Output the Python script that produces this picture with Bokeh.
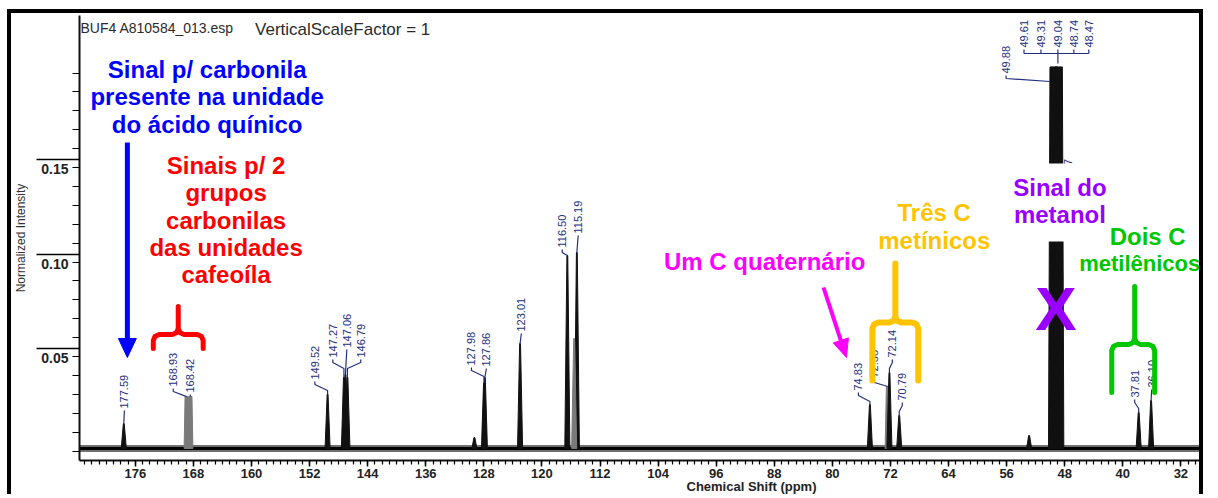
import math
from bokeh.plotting import figure
from bokeh.models import Range1d, FixedTicker, PrintfTickFormatter, Title
from bokeh.core.properties import value
from bokeh.embed import file_html
from bokeh.resources import INLINE

# ---------------- data ----------------
peak_ppm = [177.59, 168.93, 168.42, 149.52, 147.27, 147.06, 146.79,
            127.98, 127.86, 123.01, 116.50, 115.19,
            74.83, 72.38, 72.14, 70.79,
            49.88, 49.61, 49.31, 49.17, 49.04, 48.74, 48.47,
            37.81, 36.10]
peak_height = [0.0145, 0.0288, 0.0288, 0.0300, 0.0390, 0.0405, 0.0390,
               0.0360, 0.0389, 0.0569, 0.1034, 0.1050,
               0.0246, 0.0341, 0.0415, 0.0188,
               0.2032, 0.2032, 0.2032, 0.2032, 0.2032, 0.2032, 0.2032,
               0.0204, 0.0267]
unlabelled_ppm = [129.3, 115.56, 52.9]
unlabelled_height = [0.0071, 0.0595, 0.0082]
baseline_level = 0.0013

x_major_ticks = [176, 168, 160, 152, 144, 136, 128, 120, 112, 104, 96, 88, 80, 72, 64, 56, 48, 40, 32]
x_minor_ticks = list(range(183, 28, -1))
y_tick_values = [0.05, 0.10, 0.15]
y_minor_ticks = [0.00, 0.01, 0.02, 0.03, 0.04, 0.05, 0.06, 0.07, 0.08, 0.09, 0.10, 0.11, 0.12,
                 0.13, 0.14, 0.15, 0.16, 0.17, 0.18, 0.19, 0.20]

# ---------------- layout helpers (page pixels -> data) ----------------
PPM_LEFT, FR_L, FR_R, FR_T, FR_B = 183.69, 76, 1205, 15, 460
PX_PPM, ZERO_PY, PX_UNIT = 7.28, 450.5, 1890.0


def X(px):
    return PPM_LEFT - (px - FR_L) / PX_PPM


def Y(py):
    return (ZERO_PY - py) / PX_UNIT


def PX(ppm):
    return FR_L + (PPM_LEFT - ppm) * PX_PPM


def PY(v):
    return ZERO_PY - v * PX_UNIT


NAVY = "#24307e"
FONT = value("Liberation Sans")

p = figure(width=1196, height=485, output_backend="svg", toolbar_location=None,
           x_range=Range1d(X(FR_L), X(FR_R)), y_range=Range1d(Y(FR_B), Y(FR_T)),
           min_border_left=65, min_border_right=2, min_border_top=2, min_border_bottom=38)
p.styles = {"margin-left": "7px", "margin-top": "9px",
            "border-top": "4px solid black", "border-left": "4px solid black",
            "border-right": "4px solid black"}
p.outline_line_color = None
p.xgrid.visible = False
p.ygrid.visible = False
p.background_fill_color = "white"
p.border_fill_color = "white"

xa = p.xaxis[0]
xa.ticker = FixedTicker(ticks=x_major_ticks, minor_ticks=x_minor_ticks)
xa.axis_line_width = 2
xa.axis_line_color = "#111"
xa.major_tick_out = 6
xa.major_tick_in = 0
xa.minor_tick_out = 4
xa.minor_tick_in = 0
xa.major_tick_line_width = 1.5
xa.minor_tick_line_width = 1.2
xa.major_label_standoff = 2
xa.major_label_text_font = "Liberation Sans"
xa.major_label_text_font_size = "13px"
xa.major_label_text_font_style = "bold"
xa.major_label_text_color = "#222"

# the software draws a long rule just above each y label, 8 px above the value:
# the rule is the major tick, the label is written on a second line below it
rule_shift = 8 / PX_UNIT
ya = p.yaxis[0]
ya.ticker = FixedTicker(ticks=[t + rule_shift for t in y_tick_values], minor_ticks=y_minor_ticks)
ya.formatter = PrintfTickFormatter(format="\n%.2f")
ya.axis_line_width = 2
ya.axis_line_color = "#111"
ya.major_tick_out = 43
ya.major_tick_in = 0
ya.minor_tick_out = 7
ya.minor_tick_in = 0
ya.major_tick_line_width = 1.5
ya.minor_tick_line_width = 1.2
ya.major_label_standoff = -32
ya.major_label_text_font = "Liberation Sans"
ya.major_label_text_font_size = "14px"
ya.major_label_text_font_style = "bold"
ya.major_label_text_color = "#222"
ya.axis_label = "Normalized Intensity"
ya.axis_label_text_font = "Liberation Sans"
ya.axis_label_text_font_size = "12px"
ya.axis_label_text_font_style = "normal"
ya.axis_label_text_color = "#333"
ya.axis_label_standoff = 10

# x axis title (placed right of centre, as in the original)
p.add_layout(Title(text="Chemical Shift (ppm)", align="left", offset=607, standoff=-7,
                   text_font="Liberation Sans", text_font_size="13px", text_font_style="bold",
                   text_color="#222"), "below")

# ---------------- spectrum ----------------
x_lo, x_hi = X(FR_L), X(FR_R)
p.line([x_lo, x_hi], [baseline_level, baseline_level], line_color="#333", line_width=7, line_alpha=0.7)
p.line([x_lo, x_hi], [baseline_level, baseline_level], line_color="#000", line_width=3)

gray_peaks = {168.93, 168.42, 72.38, 115.56}
wide_top = {168.93: 0.22, 168.42: 0.22, 72.38: 0.18}
xs, ys, cols = [], [], []
for ppm, h in zip(peak_ppm + unlabelled_ppm, peak_height + unlabelled_height):
    wb = 0.35
    wt = wide_top.get(ppm, 0.15 if 48 < ppm < 50.5 else 0.06)
    xs.append([ppm + wb, ppm + wt, ppm - wt, ppm - wb])
    ys.append([baseline_level, h, h, baseline_level])
    cols.append("#7a7a7a" if ppm in gray_peaks else "#111")
p.patches(xs, ys, fill_color=cols, line_color=cols, line_width=1)

# ---------------- peak labels ----------------
label_pos = {  # text column x, text bottom y (page px)
    177.59: (121, 408), 168.93: (170, 386), 168.42: (187, 392), 149.52: (312, 379),
    147.27: (330, 357), 147.06: (344, 347), 146.79: (358, 357),
    127.98: (469, 365), 127.86: (484, 366), 123.01: (519, 331),
    116.50: (560, 247), 115.19: (576, 233),
    74.83: (857, 390), 72.38: (873, 377), 72.14: (891, 357), 70.79: (901, 400),
    49.88: (1005, 73), 49.61: (1023, 47), 49.31: (1040, 47), 49.17: (1067, 186),
    49.04: (1057, 47), 48.74: (1073, 47), 48.47: (1088, 47),
    37.81: (1134, 397), 36.10: (1151, 387),
}
fan = [49.61, 49.31, 49.04, 48.74, 48.47]
tx, ty, tt = [], [], []
lx, ly = [], []
for ppm, h in zip(peak_ppm, peak_height):
    cx, cb = label_pos[ppm]
    tx.append(X(cx))
    ty.append(Y(cb))
    tt.append(f"{ppm:.2f}")
    ppx, ppy = PX(ppm), PY(h)
    if ppm in fan:
        pts = [(cx, cb + 2), (cx, 53)]
    elif ppm == 49.88:
        pts = [(cx, cb + 2), (cx, 78), (1049, 81)]
    elif ppm == 49.17:
        continue
    elif abs(cx - ppx) <= 2:
        pts = [(cx, cb + 2), (ppx, ppy)]
    else:
        pts = [(cx, cb + 2), (cx, cb + 5), (ppx, min(cb + 11, ppy)), (ppx, ppy)]
    lx.append([X(a) for a, b in pts])
    ly.append([Y(b) for a, b in pts])
lx.append([X(1023), X(1088)]); ly.append([Y(53), Y(53)])
lx.append([X(1057), X(1057)]); ly.append([Y(53), Y(63)])
p.multi_line(lx, ly, line_color=NAVY, line_width=1.2)
p.text(tx, ty, text=tt, angle=math.pi / 2, text_align="left", text_baseline="middle",
       text_font=FONT, text_font_size="11px", text_color=NAVY)

# header texts
p.text([X(77)], [Y(27)], text=["BUF4 A810584_013.esp"], text_align="left", text_baseline="middle",
       text_font=FONT, text_font_size="14px", text_color="#2a2a2a")
p.text([X(252)], [Y(29)], text=["VerticalScaleFactor = 1"], text_align="left", text_baseline="middle",
       text_font=FONT, text_font_size="17px", text_color="#2a2a2a")

# ---------------- coloured annotations ----------------
p.quad(left=[X(993)], right=[X(1125)], top=[Y(163)], bottom=[Y(241)],
       fill_color="white", line_color=None)


def note(lines, cx, y0, color, size="24px", step=27.3):
    p.text([X(cx)] * len(lines), [Y(y0 + i * step) for i in range(len(lines))], text=lines,
           text_align="center", text_baseline="middle", text_font=FONT,
           text_font_size=size, text_font_style="bold", text_color=color)


def brace(xl, xr, xc, y_top, y_bar, y_bot, color, w=5, r=6):
    pts = [(xl, y_bot), (xl, y_bar + r), (xl + 0.3 * r, y_bar + 0.3 * r), (xl + r, y_bar),
           (xc - r, y_bar), (xc - 0.3 * r, y_bar - 0.3 * r), (xc, y_bar - r), (xc, y_top),
           (xc, y_bar - r), (xc + 0.3 * r, y_bar - 0.3 * r), (xc + r, y_bar),
           (xr - r, y_bar), (xr - 0.3 * r, y_bar + 0.3 * r), (xr, y_bar + r), (xr, y_bot)]
    p.line([X(a) for a, b in pts], [Y(b) for a, b in pts], line_color=color, line_width=w,
           line_cap="round", line_join="round")


def arrow(x0, y0, x1, y1, color, w=5, hl=19, hw=9):
    L = math.hypot(x1 - x0, y1 - y0)
    ux, uy = (x1 - x0) / L, (y1 - y0) / L
    bx, by = x1 - ux * hl, y1 - uy * hl
    p.line([X(x0), X(bx + ux * 2)], [Y(y0), Y(by + uy * 2)], line_color=color, line_width=w)
    tri = [(x1, y1), (bx - uy * hw, by + ux * hw), (bx + uy * hw, by - ux * hw)]
    p.patch([X(a) for a, b in tri], [Y(b) for a, b in tri], fill_color=color, line_color=color)


note(["Sinal p/ carbonila", "presente na unidade", "do ácido quínico"], 204, 69, "#0000ff")
arrow(124, 142, 124, 357, "#0000ff", w=5, hl=19, hw=9)

note(["Sinais p/ 2", "grupos", "carbonilas", "das unidades", "cafeoíla"], 223, 165, "#ff0000")
brace(150, 200, 175, 306, 334, 348, "#ff0000", w=5)

note(["Um C quaternário"], 763, 261, "#ff00ff")
arrow(822, 287, 845, 357, "#ff00ff", w=4, hl=18, hw=8)

note(["Três C", "metínicos"], 933, 212, "#ffc400", step=28)
brace(871, 917, 894, 263, 322, 380, "#ffc400", w=6)

note(["Sinal do", "metanol"], 1059, 187, "#9900ff")
p.text([X(1055)], [Y(308)], text=["X"], text_align="center", text_baseline="middle",
       text_font=FONT, text_font_size="62px", text_font_style="bold", text_color="#9900ff")

note(["Dois C"], 1147, 236, "#00c800")
note(["metilênicos"], 1139, 263, "#00c800", size="22px")
brace(1111, 1154, 1134, 286, 344, 392, "#00c800", w=5)

open("out.html", "w").write(file_html(p, INLINE))
